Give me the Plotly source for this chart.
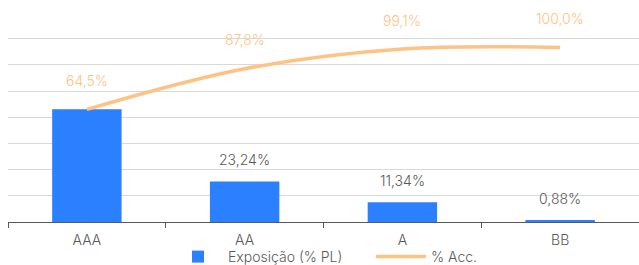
import plotly.graph_objects as go

categories = ["AAA", "AA", "A", "BB"]
exposure = [64.54, 23.24, 11.34, 0.88]
exposure_labels = ["", "23,24%", "11,34%", "0,88%"]
accumulated = [64.5, 87.8, 99.1, 100.0]
accumulated_labels = ["64,5%", "87,8%", "99,1%", "100,0%"]

BLUE = "#2A80FF"
ORANGE = "#FFC285"
GRAY = "#595959"
FONT = "Inter"

fig = go.Figure()
fig.add_trace(go.Bar(
    x=categories, y=exposure, name="Exposição (% PL)",
    marker=dict(color=BLUE, line=dict(width=0)), width=0.44,
))
fig.add_trace(go.Scatter(
    x=categories, y=accumulated, name="% Acc.", mode="lines",
    line=dict(color=ORANGE, width=3.5, shape="spline", smoothing=1.0),
))

for c, v, t in zip(categories, exposure, exposure_labels):
    if t:
        fig.add_annotation(x=c, y=v, text=t, showarrow=False, yshift=22,
                           font=dict(color=GRAY, size=14, family=FONT, weight=300))
for c, v, t in zip(categories, accumulated, accumulated_labels):
    fig.add_annotation(x=c, y=v, text=t, showarrow=False, yshift=29,
                       font=dict(color=ORANGE, size=14, family=FONT, weight=300))

fig.update_layout(
    width=639, height=265,
    margin=dict(l=8, r=0, t=12, b=43, autoexpand=False),
    paper_bgcolor="white", plot_bgcolor="white",
    font=dict(family=FONT, color=GRAY, size=14, weight=300),
    showlegend=True,
    legend=dict(orientation="h", x=168 / 639, xanchor="left", xref="container",
                y=8 / 265, yanchor="middle", yref="container",
                font=dict(size=14, color=GRAY, family=FONT, weight=300),
                itemwidth=50, entrywidth=138,
                tracegroupgap=0, bgcolor="rgba(0,0,0,0)"),
    bargap=0.56,
)
fig.update_xaxes(
    type="category", showline=True, linecolor=GRAY, linewidth=1.3,
    ticks="outside", tickson="boundaries", ticklen=5, tickcolor=GRAY,
    ticklabelstandoff=5, automargin=False,
    showgrid=False, tickfont=dict(size=14, color=GRAY, family=FONT, weight=300),
)
fig.update_yaxes(
    range=[0, 120.3], dtick=15, showticklabels=False, showgrid=True, automargin=False,
    gridcolor="#D9D9D9", gridwidth=1.2, zeroline=False, showline=False,
)

fig.write_html("out.html", config={"displayModeBar": False},
               post_script="document.body.style.margin='0';")
